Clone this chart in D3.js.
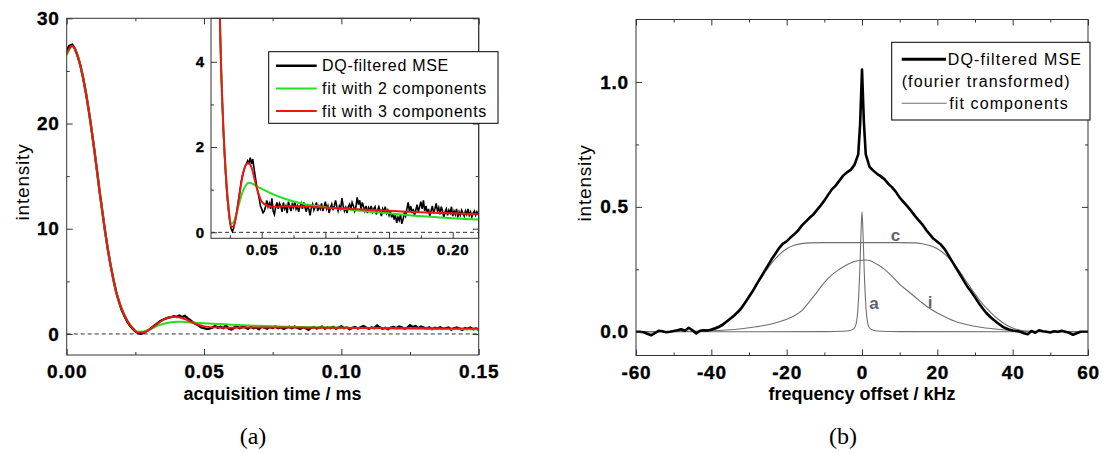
<!DOCTYPE html>
<html>
<head>
<meta charset="utf-8">
<script src="https://cdn.jsdelivr.net/npm/d3@7"></script>
<style>
  body { margin: 0; background: #fff; }
  svg text { font-family: "Liberation Sans", Arial, sans-serif; }
</style>
</head>
<body>
<div id="main"></div>
<script>
main = "#main"

// ---------- panel (a): DQ-filtered MSE time signal ----------
// one sample every 0.001 ms, from 0 to 0.220 ms
let sigDt = 0.001
let dqSignal = [
    27.0, 27.4, 27.5, 27.1, 26.4, 25.5, 24.3, 22.9, 21.3, 19.5,
    17.6, 15.6, 13.5, 11.6, 9.7, 8.0, 6.5, 5.2, 4.0, 3.1,
    2.3, 1.7, 1.2, 0.8, 0.5, 0.25, 0.08, 0.02, 0.1, 0.25,
    0.4, 0.6, 0.8, 1.0, 1.2, 1.35, 1.45, 1.55, 1.6, 1.68,
    1.62, 1.75, 1.6, 1.72, 1.5, 1.3, 1.1, 0.95, 0.8, 0.62,
    0.55, 0.46, 0.5, 0.6, 0.75, 0.6, 0.68, 0.55, 0.8, 0.5,
    0.42, 0.6, 0.7, 0.55, 0.68, 0.62, 0.48, 0.7, 0.55, 0.62,
    0.45, 0.72, 0.6, 0.5, 0.66, 0.58, 0.72, 0.55, 0.62, 0.48,
    0.6, 0.68, 0.55, 0.7, 0.58, 0.48, 0.62, 0.55, 0.4, 0.58,
    0.66, 0.52, 0.6, 0.7, 0.5, 0.62, 0.55, 0.68, 0.5, 0.6,
    0.72, 0.55, 0.62, 0.45, 0.58, 0.66, 0.52, 0.62, 0.75, 0.6,
    0.5, 0.62, 0.55, 0.8, 0.62, 0.5, 0.58, 0.45, 0.6, 0.66,
    0.55, 0.7, 0.62, 0.5, 0.6, 0.82, 0.65, 0.75, 0.55, 0.7,
    0.6, 0.5, 0.62, 0.45, 0.58, 0.52, 0.62, 0.48, 0.55, 0.6,
    0.42, 0.52, 0.6, 0.5, 0.38, 0.55, 0.48, 0.6, 0.45, 0.52,
    0.4, 0.5, 0.35, 0.45, 0.3, 0.4, 0.22, 0.35, 0.28, 0.42,
    0.2, 0.3, 0.45, 0.38, 0.55, 0.7, 0.5, 0.62, 0.45, 0.55,
    0.4, 0.52, 0.65, 0.48, 0.6, 0.72, 0.55, 0.75, 0.5, 0.62,
    0.45, 0.55, 0.38, 0.5, 0.62, 0.45, 0.55, 0.68, 0.5, 0.58,
    0.42, 0.6, 0.5, 0.35, 0.48, 0.55, 0.4, 0.52, 0.45, 0.6,
    0.38, 0.5, 0.42, 0.55, 0.35, 0.48, 0.4, 0.52, 0.45, 0.38,
    0.5, 0.42, 0.55, 0.4, 0.48, 0.36, 0.45, 0.5, 0.4, 0.48, 0.42
]

let fitTime = [0, 0.002, 0.004, 0.006, 0.008, 0.010, 0.012, 0.014, 0.016, 0.018,
    0.020, 0.022, 0.024, 0.026, 0.028, 0.030, 0.032, 0.034, 0.036, 0.038,
    0.040, 0.042, 0.044, 0.046, 0.048, 0.050, 0.055, 0.060, 0.070, 0.080,
    0.090, 0.100, 0.110, 0.120, 0.130, 0.140, 0.150, 0.160, 0.170, 0.180,
    0.190, 0.200, 0.210, 0.220]
let fit2 = [26.5, 27.3, 26.4, 24.3, 21.3, 17.6, 13.5, 9.7, 6.5, 4.0,
    2.4, 1.3, 0.58, 0.2, 0.24, 0.42, 0.64, 0.86, 1.02, 1.12,
    1.16, 1.15, 1.12, 1.08, 1.05, 1.02, 0.95, 0.88, 0.77, 0.69,
    0.63, 0.59, 0.56, 0.53, 0.5, 0.47, 0.445, 0.42, 0.39, 0.37,
    0.35, 0.33, 0.315, 0.30]
let fit3 = [26.7, 27.4, 26.4, 24.3, 21.3, 17.6, 13.5, 9.7, 6.5, 4.0,
    2.4, 1.3, 0.55, 0.13, 0.14, 0.4, 0.76, 1.16, 1.45, 1.6,
    1.62, 1.52, 1.3, 1.05, 0.86, 0.72, 0.62, 0.6, 0.61, 0.61,
    0.6, 0.58, 0.565, 0.55, 0.535, 0.52, 0.505, 0.49, 0.475, 0.465,
    0.455, 0.445, 0.435, 0.425]

let legendA = ["DQ-filtered MSE", "fit with 2 components", "fit with 3 components"]
let colorsA = ["#000000", "#22e022", "#f01414"]

let xTicksA = [0, 0.05, 0.10, 0.15]
let yTicksA = [0, 10, 20, 30]
let xTicksInset = [0.05, 0.10, 0.15, 0.20]
let yTicksInset = [0, 2, 4]

// ---------- panel (b): fourier transformed spectrum ----------
let specFreq = d3.range(-60, 0).concat([-0.5, 0, 0.5]).concat(d3.range(1, 61))
let dqSpectrum = [
    0.0, 0.0, -0.002, -0.008, -0.014, -0.005, 0.004, 0.002, -0.002, 0.0,
    0.003, 0.006, 0.01, 0.004, 0.016, 0.006, -0.007, 0.004, 0.006, 0.005,
    0.008, 0.013, 0.019, 0.028, 0.04, 0.052, 0.064, 0.078, 0.095, 0.117,
    0.14, 0.163, 0.19, 0.215, 0.24, 0.265, 0.29, 0.312, 0.335, 0.353,
    0.362, 0.377, 0.39, 0.405, 0.425, 0.44, 0.455, 0.468, 0.487, 0.505,
    0.525, 0.548, 0.57, 0.585, 0.605, 0.625, 0.638, 0.648, 0.668, 0.71,
    0.83, 1.05, 0.84,
    0.71, 0.66, 0.645, 0.632, 0.622, 0.61, 0.592, 0.578, 0.56, 0.537,
    0.52, 0.503, 0.485, 0.465, 0.447, 0.43, 0.408, 0.39, 0.372, 0.36,
    0.348, 0.33, 0.305, 0.28, 0.255, 0.23, 0.205, 0.18, 0.16, 0.138,
    0.115, 0.094, 0.075, 0.06, 0.047, 0.035, 0.024, 0.015, 0.009, 0.005,
    0.003, 0.0, -0.006, -0.01, 0.003, -0.004, 0.006, 0.002, 0.0, -0.003,
    0.002, 0.0, 0.004, 0.0, -0.004, -0.012, -0.006, 0.0, 0.0, 0.0
]

// fit components: c (rigid), i (intermediate), a (mobile)
let compCFreq = [-60, -45, -42, -40, -38, -36, -34, -32, -30, -28, -26, -24, -22, -20, -18, -16, -14, -10, 0,
    10, 14, 16, 18, 20, 22, 24, 26, 28, 30, 32, 34, 36, 38, 40, 42, 45, 60]
let compC = [0, 0.001, 0.005, 0.012, 0.024, 0.042, 0.068, 0.1, 0.14, 0.185, 0.232, 0.275, 0.308, 0.332, 0.346, 0.353, 0.356, 0.357, 0.357,
    0.357, 0.356, 0.352, 0.345, 0.332, 0.31, 0.28, 0.24, 0.195, 0.152, 0.112, 0.08, 0.052, 0.03, 0.015, 0.006, 0.001, 0]
let compIFreq = [-60, -45, -40, -36, -32, -28, -25, -22, -20, -18, -16, -14, -12, -10, -8, -6, -4, -2, 0,
    1, 2, 4, 6, 8, 10, 12, 14, 16, 18, 20, 22, 25, 28, 32, 36, 40, 45, 60]
let compI = [0, 0.002, 0.004, 0.007, 0.012, 0.02, 0.028, 0.04, 0.05, 0.064, 0.085, 0.12, 0.158, 0.197, 0.228, 0.25, 0.268, 0.281, 0.286,
    0.287, 0.285, 0.27, 0.25, 0.222, 0.19, 0.165, 0.14, 0.115, 0.093, 0.075, 0.06, 0.04, 0.028, 0.017, 0.01, 0.005, 0.002, 0]
let compAFreq = [-60, -10, -5, -3, -2, -1.4, -1, -0.6, -0.3, 0, 0.3, 0.6, 1, 1.4, 2, 3, 5, 10, 60]
let compA = [0, 0.0005, 0.002, 0.006, 0.015, 0.045, 0.11, 0.24, 0.38, 0.48, 0.38, 0.24, 0.11, 0.045, 0.015, 0.006, 0.002, 0.0005, 0]

let compLabels = [{t: "c", f: 8.9, v: 0.387}, {t: "a", f: 3.2, v: 0.114}, {t: "i", f: 18.1, v: 0.117}]
let legendB = ["DQ-filtered MSE", "(fourier transformed)", "fit components"]

let xTicksB = [-60, -40, -20, 0, 20, 40, 60]
let yTicksB = [0, 0.5, 1.0]

// ---------- svg ----------
let svg = d3.select(main)
    .append("svg")
    .attr("width", 1106)
    .attr("height", 453)
    .style("display", "block")

svg.append("rect").attr("width", 1106).attr("height", 453).attr("fill", "#fff")

let frameColor = "#333"

// draws frame + inward ticks on the asked sides
function drawFrame(g, x, y, xt, yt, xMinor, yMinor, fmtX, fmtY, size, padX, padY, sides) {
    let [x0, x1] = x.range(), [y0, y1] = y.range()
    let axes = []
    if (sides.bottom) {
        axes.push(g.append("g").attr("transform", "translate(0," + y0 + ")")
            .call(d3.axisBottom(x).tickValues(xMinor).tickSize(-3).tickFormat("")))
        axes.push(g.append("g").attr("transform", "translate(0," + y0 + ")")
            .call(d3.axisBottom(x).tickValues(xt).tickSize(-6).tickPadding(padX).tickFormat(fmtX)))
    }
    if (sides.left) {
        axes.push(g.append("g").attr("transform", "translate(" + x0 + ",0)")
            .call(d3.axisLeft(y).tickValues(yMinor).tickSize(-3).tickFormat("")))
        axes.push(g.append("g").attr("transform", "translate(" + x0 + ",0)")
            .call(d3.axisLeft(y).tickValues(yt).tickSize(-6).tickPadding(padY).tickFormat(fmtY)))
    }
    if (sides.top) {
        axes.push(g.append("g").attr("transform", "translate(0," + y1 + ")")
            .call(d3.axisTop(x).tickValues(xMinor).tickSize(-3).tickFormat("")))
        axes.push(g.append("g").attr("transform", "translate(0," + y1 + ")")
            .call(d3.axisTop(x).tickValues(xt).tickSize(-6).tickFormat("")))
    }
    if (sides.right) {
        axes.push(g.append("g").attr("transform", "translate(" + x1 + ",0)")
            .call(d3.axisRight(y).tickValues(yMinor).tickSize(-3).tickFormat("")))
        axes.push(g.append("g").attr("transform", "translate(" + x1 + ",0)")
            .call(d3.axisRight(y).tickValues(yt).tickSize(-6).tickFormat("")))
    }
    axes.forEach(a => {
        a.select(".domain").remove()
        a.selectAll("line").attr("stroke", frameColor)
        a.selectAll("text")
            .attr("font-size", size)
            .attr("font-weight", "bold")
            .attr("letter-spacing", 0.8)
            .attr("fill", "#000")
            .attr("stroke", "#000")
            .attr("stroke-width", 0.35)
    })
    g.append("rect")
        .attr("x", x0).attr("y", y1)
        .attr("width", x1 - x0).attr("height", y0 - y1)
        .attr("fill", "none")
        .attr("stroke", frameColor)
        .attr("stroke-width", 1)
}

function zeroLine(g, x, y) {
    g.append("line")
        .attr("x1", x.range()[0]).attr("x2", x.range()[1])
        .attr("y1", y(0)).attr("y2", y(0))
        .attr("stroke", "#333")
        .attr("stroke-width", 1)
        .attr("stroke-dasharray", "4,3")
}

function clip(id, x, y) {
    svg.append("clipPath").attr("id", id)
        .append("rect")
        .attr("x", x.range()[0]).attr("y", y.range()[1])
        .attr("width", x.range()[1] - x.range()[0])
        .attr("height", y.range()[0] - y.range()[1])
    return "url(#" + id + ")"
}

let sigPoints = dqSignal.map((v, i) => [i * sigDt, v])
let fit2Points = fitTime.map((t, i) => [t, fit2[i]])
let fit3Points = fitTime.map((t, i) => [t, fit3[i]])

// ---------- panel (a) main curves ----------
let xA = d3.scaleLinear().domain([0, 0.15]).range([66.7, 478.7])
let yA = d3.scaleLinear().domain([-2, 30]).range([355, 18.3])

let gA = svg.append("g")
zeroLine(gA, xA, yA)

let lineA = d3.line().x(d => xA(d[0])).y(d => yA(d[1]))
let fitLineA = d3.line().x(d => xA(d[0])).y(d => yA(d[1])).curve(d3.curveMonotoneX)
let clipA = clip("clipA", xA, yA)

gA.append("path").datum(sigPoints).attr("d", lineA).attr("clip-path", clipA)
    .attr("fill", "none").attr("stroke", colorsA[0]).attr("stroke-width", 2.4)
gA.append("path").datum(fit2Points).attr("d", fitLineA).attr("clip-path", clipA)
    .attr("fill", "none").attr("stroke", colorsA[1]).attr("stroke-width", 2)
gA.append("path").datum(fit3Points).attr("d", fitLineA).attr("clip-path", clipA)
    .attr("fill", "none").attr("stroke", colorsA[2]).attr("stroke-width", 2)

// ---------- panel (a) inset ----------
let xI = d3.scaleLinear().domain([0.0102, 0.2204]).range([211, 478.7])
let yI = d3.scaleLinear().domain([-0.14, 5.02]).range([238.3, 18.3])

let gI = svg.append("g")
gI.append("rect")
    .attr("x", 211).attr("y", 18.3)
    .attr("width", 478.7 - 211).attr("height", 238.3 - 18.3)
    .attr("fill", "#fff")
zeroLine(gI, xI, yI)

let lineI = d3.line().x(d => xI(d[0])).y(d => yI(d[1]))
let fitLineI = d3.line().x(d => xI(d[0])).y(d => yI(d[1])).curve(d3.curveMonotoneX)
let clipI = clip("clipI", xI, yI)

gI.append("path").datum(sigPoints).attr("d", lineI).attr("clip-path", clipI)
    .attr("fill", "none").attr("stroke", colorsA[0]).attr("stroke-width", 1.6)
gI.append("path").datum(fit2Points).attr("d", fitLineI).attr("clip-path", clipI)
    .attr("fill", "none").attr("stroke", colorsA[1]).attr("stroke-width", 2)
gI.append("path").datum(fit3Points).attr("d", fitLineI).attr("clip-path", clipI)
    .attr("fill", "none").attr("stroke", colorsA[2]).attr("stroke-width", 2)

drawFrame(gI, xI, yI, xTicksInset, yTicksInset,
    [0.025, 0.075, 0.125, 0.175], [1, 3],
    d3.format(".2f"), d3.format("d"), "15px", 6, 6,
    {bottom: true, left: true})

// main frame last, so its top/right ticks show over the inset
drawFrame(svg.append("g"), xA, yA, xTicksA, yTicksA,
    [0.025, 0.075, 0.125], [5, 15, 25],
    d3.format(".2f"), d3.format("d"), "19px", 10, 7,
    {bottom: true, left: true, top: true, right: true})

// legend (a)
let legA = svg.append("g")
legA.append("rect")
    .attr("x", 268.7).attr("y", 51.7)
    .attr("width", 498 - 268.7).attr("height", 123.3 - 51.7)
    .attr("fill", "#fff").attr("stroke", "#000").attr("stroke-width", 1)
legendA.forEach((name, i) => {
    let yy = 65.7 + i * 22.7
    legA.append("line")
        .attr("x1", 276).attr("x2", 316.7).attr("y1", yy).attr("y2", yy)
        .attr("stroke", colorsA[i]).attr("stroke-width", i === 0 ? 2.6 : 2)
    legA.append("text")
        .attr("x", 322).attr("y", yy + 5.6)
        .attr("font-size", "16px").attr("letter-spacing", 0.7)
        .text(name)
})

// axis titles (a)
svg.append("text")
    .attr("x", 272.5).attr("y", 400)
    .attr("text-anchor", "middle")
    .attr("font-size", "18px").attr("font-weight", "bold")
    .text("acquisition time / ms")
svg.append("text")
    .attr("transform", "translate(29,182) rotate(-90)")
    .attr("text-anchor", "middle")
    .attr("font-size", "19px").attr("letter-spacing", 0.8)
    .text("intensity")
svg.append("text")
    .attr("x", 253).attr("y", 443.5)
    .attr("text-anchor", "middle")
    .attr("font-size", "24px")
    .style("font-family", "'Liberation Serif', 'Times New Roman', serif")
    .text("(a)")

// ---------- panel (b) ----------
let xB = d3.scaleLinear().domain([-60, 60]).range([636, 1088])
let yB = d3.scaleLinear().domain([-0.095, 1.25]).range([355.5, 19.5])
let gB = svg.append("g")
let clipB = clip("clipB", xB, yB)

let specLine = d3.line().x(d => xB(d[0])).y(d => yB(d[1]))
let compLine = d3.line().x(d => xB(d[0])).y(d => yB(d[1])).curve(d3.curveMonotoneX)

let comps = [[compCFreq, compC], [compIFreq, compI], [compAFreq, compA]]
comps.forEach(c => {
    gB.append("path")
        .datum(c[0].map((f, i) => [f, c[1][i]]))
        .attr("d", compLine).attr("clip-path", clipB)
        .attr("fill", "none").attr("stroke", "#6f6f6f").attr("stroke-width", 1.1)
})
gB.append("path")
    .datum(specFreq.map((f, i) => [f, dqSpectrum[i]]))
    .attr("d", specLine).attr("clip-path", clipB)
    .attr("fill", "none").attr("stroke", "#000").attr("stroke-width", 2.6)
    .attr("stroke-linejoin", "round")

gB.selectAll("text.comp")
    .data(compLabels)
    .enter()
    .append("text")
    .attr("class", "comp")
    .attr("x", d => xB(d.f)).attr("y", d => yB(d.v))
    .attr("dy", "0.35em")
    .attr("text-anchor", "middle")
    .attr("font-size", "17px").attr("font-weight", "bold")
    .attr("fill", "#5e6370")
    .text(d => d.t)

drawFrame(gB, xB, yB, xTicksB, yTicksB,
    [-50, -30, -10, 10, 30, 50], [0.25, 0.75],
    d => String(d), d3.format(".1f"), "19px", 10, 7,
    {bottom: true, left: true, top: true, right: true})

// legend (b)
let legB = svg.append("g")
legB.append("rect")
    .attr("x", 891.7).attr("y", 42.3)
    .attr("width", 1090 - 891.7).attr("height", 120 - 42.3)
    .attr("fill", "#fff").attr("stroke", "#000").attr("stroke-width", 1)
legB.append("line")
    .attr("x1", 901.7).attr("x2", 946).attr("y1", 59.3).attr("y2", 59.3)
    .attr("stroke", "#000").attr("stroke-width", 3)
legB.append("text")
    .attr("x", 947.7).attr("y", 65)
    .attr("font-size", "16px").attr("letter-spacing", 1.2)
    .text(legendB[0])
legB.append("text")
    .attr("x", 901.7).attr("y", 87)
    .attr("font-size", "16px").attr("letter-spacing", 1.1)
    .text(legendB[1])
legB.append("line")
    .attr("x1", 901.7).attr("x2", 946.7).attr("y1", 103.3).attr("y2", 103.3)
    .attr("stroke", "#6f6f6f").attr("stroke-width", 1.1)
legB.append("text")
    .attr("x", 949.3).attr("y", 109)
    .attr("font-size", "16px").attr("letter-spacing", 1.1)
    .text(legendB[2])

// axis titles (b)
svg.append("text")
    .attr("x", 862).attr("y", 400)
    .attr("text-anchor", "middle")
    .attr("font-size", "18px").attr("font-weight", "bold")
    .text("frequency offset / kHz")
svg.append("text")
    .attr("transform", "translate(591,183) rotate(-90)")
    .attr("text-anchor", "middle")
    .attr("font-size", "19px").attr("letter-spacing", 0.8)
    .text("intensity")
svg.append("text")
    .attr("x", 843).attr("y", 443.5)
    .attr("text-anchor", "middle")
    .attr("font-size", "24px")
    .style("font-family", "'Liberation Serif', 'Times New Roman', serif")
    .text("(b)")
</script>
</body>
</html>
